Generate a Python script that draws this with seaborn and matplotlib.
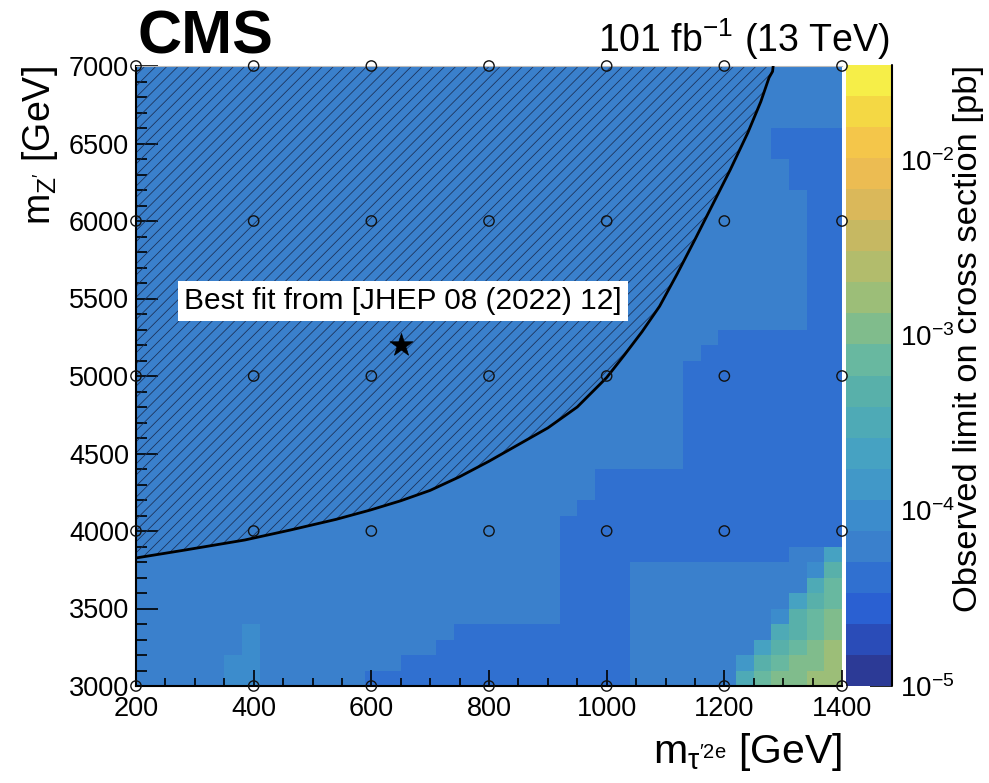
import numpy as np
import pandas as pd
import matplotlib
matplotlib.use("Agg")
import matplotlib.pyplot as plt
import seaborn as sns
from matplotlib.colors import ListedColormap, LogNorm
from matplotlib.ticker import MultipleLocator, LogLocator, NullFormatter

# ---------------- data ----------------
# grid of the limit map: 40 bins of 30 GeV in m_tau', 40 bins of 100 GeV in m_Z'
x_bin_lo, x_bin_w, n_x = 200, 30, 40
y_bin_lo, y_bin_w, n_y = 3000, 100, 40

# colour-level of each cell (0..19 in the 20-step palette), one row per m_Z' bin,
# bottom row first, written as run-lengths "level*count"
level_rows = [
    "4*5 5*2 4*6 3*15 4*6 8 a b b c c",          # 3000-3100
    "4*5 5*2 4*8 3*13 4*6 6 9 a b b c",          # 3100-3200
    "4*6 5 4*10 3*11 4*7 7 9 a b c",             # 3200-3300
    "4*6 5 4*11 3*10 4*8 8 9 a b",               # 3300-3400
    "4*24 3*4 4*8 5 9 a b",                      # 3400-3500
    "4*24 3*4 4*9 7 9 a",                        # 3500-3600
    "4*24 3*4 4*10 8 a",                         # 3600-3700
    "4*24 3*4 4*10 5 9",                         # 3700-3800
    "4*24 3*13 4*2 7",                           # 3800-3900
    "4*24 3*16",                                 # 3900-4000
    "4*24 3*16",                                 # 4000-4100
    "4*25 3*15",                                 # 4100-4200
    "4*26 3*14",                                 # 4200-4300
    "4*26 3*14",                                 # 4300-4400
    "4*31 3*9", "4*31 3*9", "4*31 3*9", "4*31 3*9",
    "4*31 3*9", "4*31 3*9", "4*31 3*9",          # 4400-5100
    "4*32 3*8",                                  # 5100-5200
    "4*33 3*7",                                  # 5200-5300
    "4*38 3*2", "4*38 3*2", "4*38 3*2", "4*38 3*2", "4*38 3*2",
    "4*38 3*2", "4*38 3*2", "4*38 3*2", "4*38 3*2",   # 5300-6200
    "4*37 3*3", "4*37 3*3",                      # 6200-6400
    "4*36 3*4", "4*36 3*4",                      # 6400-6600
    "4*40", "4*40", "4*40", "4*40",              # 6600-7000
]

# 20-step palette of the z axis (bottom to top)
palette = [
    "#2c3a96", "#2a4cb8", "#2a60d2", "#3070d0", "#3a80cc",
    "#3c8ccc", "#4198c8", "#46a2c2", "#4eaab6", "#58b0aa",
    "#68b8a0", "#80bc8c", "#9cbe78", "#b2bc6c", "#c6b862",
    "#dab85a", "#ecbc52", "#f4c64a", "#f4d844", "#f6ee48",
]
z_log_min, z_log_max = -5.0, -1.46

# expected-exclusion contour (m_tau', m_Z')
curve_x = [200, 283, 385, 462, 540, 598, 650, 700, 750, 800, 900, 950, 1000,
           1030, 1060, 1090, 1120, 1150, 1180, 1210, 1240, 1262, 1276, 1282,
           1283]
curve_y = [3826, 3877, 3942, 4006, 4075, 4135, 4195, 4262, 4350, 4450, 4665,
           4800, 4990, 5135, 5285, 5450, 5660, 5880, 6105, 6330, 6570, 6770,
           6925, 6965, 7000]

# simulated signal points
grid_x = [200, 400, 600, 800, 1000, 1200, 1400]
grid_y = [3000, 4000, 5000, 6000, 7000]

best_fit_x = [650]
best_fit_y = [5200]
best_fit_text = "Best fit from [JHEP 08 (2022) 12]"

x_ticks = [200, 400, 600, 800, 1000, 1200, 1400]
y_ticks = [3000, 3500, 4000, 4500, 5000, 5500, 6000, 6500, 7000]

# ---------------- build table ----------------
def decode(row):
    out = []
    for tok in row.split():
        if "*" in tok:
            lv, n = tok.split("*")
            out += [int(lv, 20)] * int(n)
        else:
            out.append(int(tok, 20))
    return out

levels = np.array([decode(r) for r in level_rows], dtype=float)
step = (z_log_max - z_log_min) / len(palette)
values = 10 ** (z_log_min + (levels + 0.5) * step)
x_centres = [x_bin_lo + x_bin_w * (i + 0.5) for i in range(n_x)]
y_centres = [y_bin_lo + y_bin_w * (j + 0.5) for j in range(n_y)]
table = pd.DataFrame(values, index=y_centres, columns=x_centres)

# ---------------- style ----------------
sns.set_theme(style="white")
plt.rcParams["font.family"] = ["Liberation Sans", "DejaVu Sans"]
plt.rcParams["mathtext.fontset"] = "custom"
plt.rcParams["mathtext.rm"] = "Liberation Sans"
plt.rcParams["mathtext.it"] = "Liberation Sans"
plt.rcParams["mathtext.bf"] = "Liberation Sans:bold"
plt.rcParams["mathtext.default"] = "regular"
plt.rcParams["hatch.linewidth"] = 0.55
plt.rcParams["text.color"] = "black"
plt.rcParams["axes.labelcolor"] = "black"
plt.rcParams["xtick.color"] = "black"
plt.rcParams["ytick.color"] = "black"

W, H = 989, 783
fig = plt.figure(figsize=(W / 100, H / 100), dpi=100)
pos = [136 / W, 1 - 686 / H, 706 / W, 620 / H]
ax_h = fig.add_axes(pos)
cax = fig.add_axes([846 / W, 1 - 686 / H, 46 / W, 621 / H])

cmap = ListedColormap(palette)
norm = LogNorm(vmin=10 ** z_log_min, vmax=10 ** z_log_max)
sns.heatmap(table, ax=ax_h, cbar_ax=cax, cmap=cmap, norm=norm,
            xticklabels=False, yticklabels=False)
ax_h.set_ylim(0, n_y)
ax_h.set_xlabel("")
ax_h.set_ylabel("")
ax_h.set_axis_off()

# overlay axes in physical units
ax = fig.add_axes(pos)
ax.patch.set_alpha(0)
ax.set_xlim(200, 1400)
ax.set_ylim(3000, 7000)

ax.fill_between(curve_x, curve_y, 7000, facecolor="none",
                edgecolor="#1a2f55", hatch="///", linewidth=0, zorder=2)
sns.lineplot(x=curve_x, y=curve_y, sort=False, estimator=None, color="black",
             linewidth=2.0, ax=ax, zorder=3)
gx, gy = np.meshgrid(grid_x, grid_y)
sns.scatterplot(x=gx.ravel(), y=gy.ravel(), marker="o", s=55,
                color="black", facecolor="none", edgecolor="#111111",
                linewidth=1.0, ax=ax, clip_on=False, zorder=5)
sns.scatterplot(x=best_fit_x, y=best_fit_y, marker="*", s=300, color="black",
                edgecolor="black", linewidth=0.5, ax=ax, zorder=6)
ax.text(0.378, 0.621, best_fit_text, transform=ax.transAxes, ha="center",
        va="center", fontsize=21.5, color="black", zorder=7,
        bbox=dict(facecolor="white", edgecolor="none", boxstyle="square,pad=0.2"))

ax.set_xticks(x_ticks)
ax.set_yticks(y_ticks)
ax.xaxis.set_minor_locator(MultipleLocator(50))
ax.yaxis.set_minor_locator(MultipleLocator(100))
ax.tick_params(axis="x", which="major", direction="in", length=11.5, width=1.2,
               labelsize=19.5, pad=7, top=False, bottom=True, colors="black")
ax.tick_params(axis="x", which="minor", direction="in", length=5.8, width=1.2,
               top=False, bottom=True, colors="black")
ax.tick_params(axis="y", which="major", direction="in", length=16, width=1.2,
               labelsize=19.5, pad=5, right=False, left=True, colors="black")
ax.tick_params(axis="y", which="minor", direction="in", length=8, width=1.2,
               right=False, left=True, colors="black")
for s in ["bottom", "left"]:
    ax.spines[s].set_visible(True)
    ax.spines[s].set_color("black")
    ax.spines[s].set_linewidth(1.5)
ax.spines["top"].set_color("#bbbbbb")
ax.spines["top"].set_linewidth(0.8)
ax.spines["right"].set_visible(False)

ax.set_xlabel(r"m$_{\tau^{\prime 2e}}$ [GeV]", fontsize=29.5, loc="right",
              color="black")
ax.xaxis.set_label_coords(1.0, -(731 - 686) / 620)
ax.set_ylabel(r"m$_{Z^{\prime}}$ [GeV]", fontsize=27, loc="top", color="black")
ax.yaxis.set_label_coords(-(136 - 60) / 706, 1.0)

# colour bar
cax.yaxis.set_ticks_position("right")
cax.yaxis.set_minor_locator(LogLocator(base=10, subs=np.arange(2, 10)))
cax.yaxis.set_minor_formatter(NullFormatter())
cax.tick_params(axis="y", which="major", direction="in", length=16, width=1.2,
                labelsize=20, pad=6, colors="black")
cax.tick_params(axis="y", which="minor", direction="in", length=8, width=1.2,
                colors="black")
cax.plot([1, 1], [0, 1], transform=cax.transAxes, color="black", lw=1.5,
         clip_on=False)
cax.set_ylabel("Observed limit on cross section [pb]", fontsize=24.8, loc="top",
               color="black")
cax.yaxis.set_label_position("right")
cax.yaxis.set_label_coords((953 - 846) / 46, 1.0)

# header
fig.text(137 / W, 1 - 54 / H, "CMS", fontsize=44, fontweight="bold",
         ha="left", va="baseline", color="black")
fig.text(890 / W, 1 - 52 / H, r"101 fb$^{-1}$ (13 TeV)", fontsize=27,
         ha="right", va="baseline", color="black")

fig.savefig("out.png", dpi=100)
